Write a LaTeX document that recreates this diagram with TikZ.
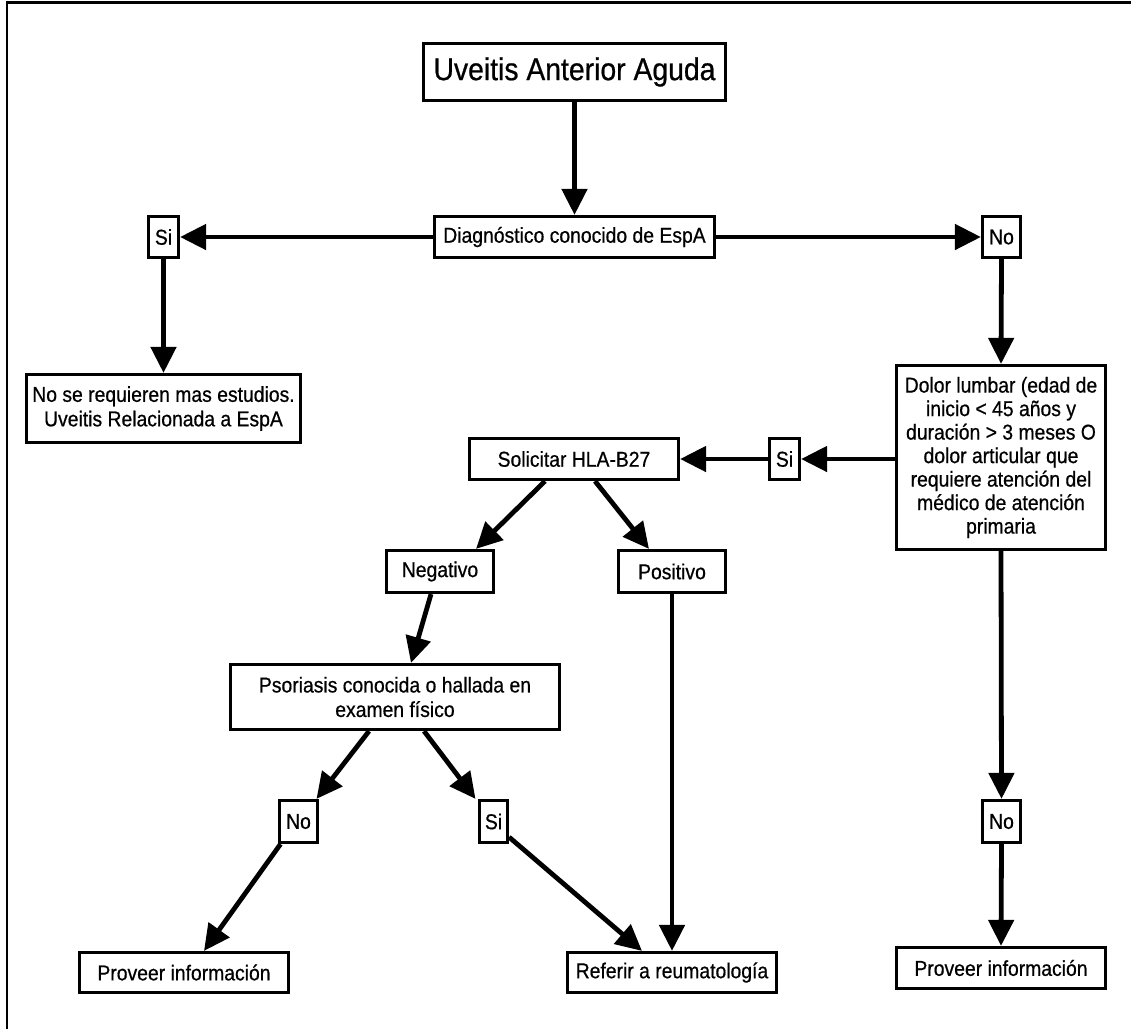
\documentclass[tikz,border=0pt]{standalone}
\usepackage{fontspec}
\setmainfont{Liberation Sans}[FakeStretch=0.9,FakeBold=0.6]
\usetikzlibrary{arrows.meta}
\begin{document}
\begin{tikzpicture}[x=1pt,y=-1pt,
  box/.style={draw,line width=3.2pt,fill=white,inner sep=0pt,align=center,
    font=\fontsize{21.5}{24.5}\selectfont},
  arr/.style={line width=4.8pt,-{Triangle[length=26pt,width=25pt]}}]
\useasboundingbox (0,0) rectangle (1131,1029);
% frame (top and left only)
\draw[line width=3pt] (7,2) -- (1131,2);
\draw[line width=2.5pt] (7,0.5) -- (7,1029);
% nodes
\node[box,minimum width=302pt,minimum height=57pt,font=\fontsize{31.5}{36}\selectfont] (title) at (574.5,72) {Uveitis Anterior Aguda};
\node[box,minimum width=280pt,minimum height=41pt] (diag) at (574.5,237) {Diagnóstico conocido de EspA};
\node[box,minimum width=30pt,minimum height=41pt] (si1) at (163.5,237) {Si};
\node[box,minimum width=38pt,minimum height=41pt] (no1) at (1001.5,237) {No};
\node[box,minimum width=274pt,minimum height=68pt] (nose) at (163.5,408.5) {No se requieren mas estudios.\\Uveitis Relacionada a EspA};
\node[box,minimum width=209pt,minimum height=184pt,font=\fontsize{21.5}{23.5}\selectfont] (dolor) at (1001,457.5) {Dolor lumbar (edad de\\inicio < 45 años y\\duración > 3 meses O\\dolor articular que\\requiere atención del\\médico de atención\\primaria};
\node[box,minimum width=30pt,minimum height=41pt] (si2) at (784.5,459) {Si};
\node[box,minimum width=209pt,minimum height=41pt] (sol) at (574,459) {Solicitar HLA-B27};
\node[box,minimum width=107pt,minimum height=42pt] (neg) at (440,571.5) {Negativo};
\node[box,minimum width=107pt,minimum height=42pt] (pos) at (672,571.5) {Positivo};
\node[box,minimum width=329pt,minimum height=65pt] (pso) at (395,697) {Psoriasis conocida o hallada en\\examen físico};
\node[box,minimum width=38pt,minimum height=42pt] (no2) at (298.5,821.5) {No};
\node[box,minimum width=28pt,minimum height=42pt] (si3) at (493.5,821.5) {Si};
\node[box,minimum width=209pt,minimum height=40pt] (prov1) at (184,972.5) {Proveer información};
\node[box,minimum width=209pt,minimum height=40pt] (ref) at (672,972.5) {Referir a reumatología};
\node[box,minimum width=38pt,minimum height=42pt] (no3) at (1001.5,821.5) {No};
\node[box,minimum width=209pt,minimum height=41pt] (prov2) at (1001,968) {Proveer información};
% connectors
\draw[arr] (title.south) -- (diag.north);
\draw[arr] (diag.west) -- (si1.east);
\draw[arr] (diag.east) -- (no1.west);
\draw[arr] (si1.south) -- (nose.north);
\draw[arr] (no1.south) -- (dolor.north);
\draw[arr] (dolor.west |- si2.east) -- (si2.east);
\draw[arr] (si2.west) -- (sol.east);
\draw[arr] ([xshift=-29pt]sol.south) -- ([xshift=36pt]neg.north);
\draw[arr] ([xshift=21pt]sol.south) -- ([xshift=-23pt]pos.north);
\draw[arr] ([xshift=-9pt]neg.south) -- ([xshift=16pt]pso.north);
\draw[arr] ([xshift=-26pt]pso.south) -- ([xshift=18pt]no2.north);
\draw[arr] ([xshift=29pt]pso.south) -- ([xshift=-18pt]si3.north);
\draw[arr] ([xshift=-18pt]no2.south) -- ([xshift=20pt]prov1.north);
\draw[arr] ([yshift=7pt]si3.south east) -- ([xshift=-30pt]ref.north);
\draw[arr] (pos.south) -- (ref.north);
\draw[arr] (dolor.south) -- (no3.north);
\draw[arr] (no3.south) -- (prov2.north);
\end{tikzpicture}
\end{document}
